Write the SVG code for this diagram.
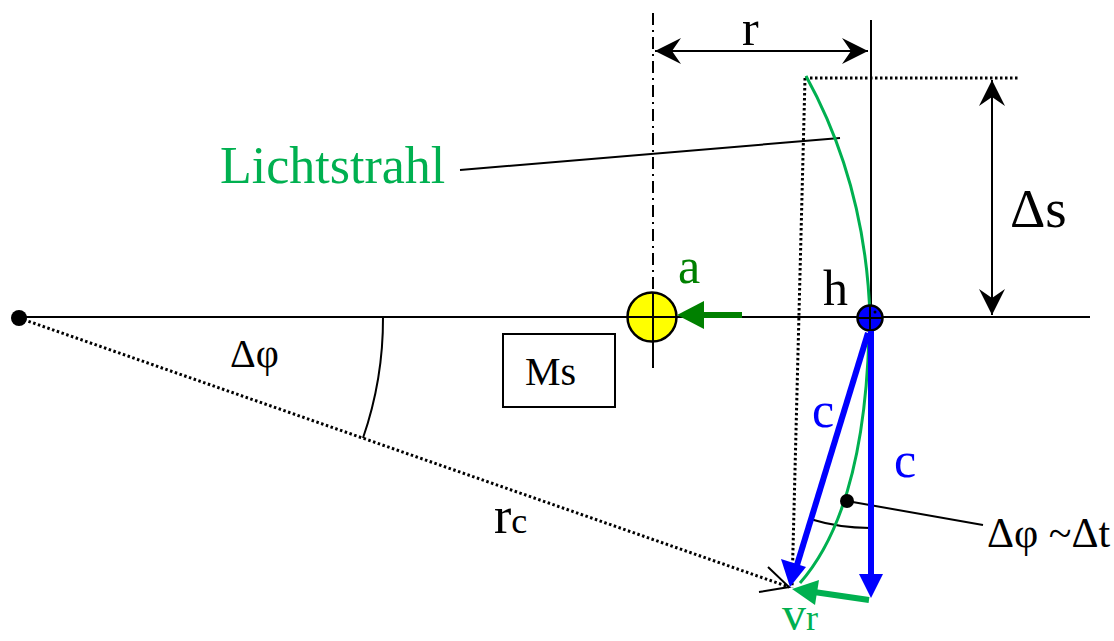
<svg xmlns="http://www.w3.org/2000/svg" width="1114" height="641" viewBox="0 0 1114 641">
<style>
text{font-family:"Liberation Serif","Times New Roman",serif;}
.ln{stroke:#000;stroke-width:2;fill:none;}
.dot{stroke:#000;stroke-width:3;stroke-dasharray:2.5,2.5;fill:none;}
.blue{fill:#0000FF;}
.green{fill:#00B050;}
.dgreen{fill:#008000;}
</style>
<defs>
<marker id="ah" markerWidth="28" markerHeight="28" viewBox="-27 -14 28 28" refX="0" refY="0" orient="auto-start-reverse" markerUnits="userSpaceOnUse">
<path d="M0,0 L-26,-13 L-17,0 L-26,13 Z" fill="#000"/>
</marker>
</defs>
<rect width="1114" height="641" fill="#fff"/>
<g id="connectors">
<line class="ln" x1="19" y1="317" x2="1090" y2="317"/>
<line class="ln" x1="653" y1="13" x2="653" y2="293" stroke-dasharray="12,5,2,5"/>
<line class="ln" x1="653" y1="293" x2="653" y2="368"/>
<line class="ln" x1="871" y1="20" x2="871" y2="318"/>
<line class="ln" x1="655" y1="51" x2="868" y2="51" marker-start="url(#ah)" marker-end="url(#ah)"/>
<line class="ln" x1="992" y1="80" x2="992" y2="315" marker-start="url(#ah)" marker-end="url(#ah)"/>
<line class="dot" x1="805" y1="78" x2="1020" y2="78"/>
<line class="dot" x1="805" y1="78" x2="792" y2="588"/>
<line class="dot" x1="19" y1="318" x2="789" y2="587"/>
<polyline class="ln" points="768,567 789,587 759,592"/>
<path class="ln" d="M383,317 A364,364 0 0 1 363,438"/>
<path class="ln" d="M810,519 A208,208 0 0 0 870,528"/>
<line class="ln" x1="460" y1="170" x2="840" y2="138"/>
<line class="ln" x1="847" y1="501" x2="983" y2="525"/>
<path d="M806,76 Q866,185 870,318" fill="none" stroke="#00B050" stroke-width="3"/>
<path d="M869,335 Q864,510 800,583" fill="none" stroke="#00B050" stroke-width="3"/>
</g>
<g id="leftpoint">
<circle cx="19" cy="318" r="8" fill="#000"/>
</g>
<g id="sun">
<circle cx="652" cy="317" r="24.5" fill="#FFFF00" stroke="#000" stroke-width="2.5"/>
<line class="ln" x1="627" y1="317" x2="677" y2="317"/>
<line class="ln" x1="653" y1="292" x2="653" y2="342"/>
</g>
<g id="arrow-a">
<line x1="742" y1="315" x2="700" y2="315" stroke="#008000" stroke-width="6"/>
<path d="M677,315 L704,301 L704,329 Z" class="dgreen"/>
<text x="678" y="283" font-size="50" class="dgreen">a</text>
</g>
<g id="h">
<circle cx="870" cy="318" r="12.5" fill="#0000FF" stroke="#000" stroke-width="2.5"/>
<line class="ln" x1="857" y1="318" x2="883" y2="318"/>
<line class="ln" x1="870" y1="305" x2="870" y2="331"/>
<circle cx="875" cy="312" r="1.5" fill="#000"/>
<text x="823" y="305" font-size="50">h</text>
</g>
<g id="c-vertical">
<line x1="871" y1="331" x2="871" y2="578" stroke="#0000FF" stroke-width="6"/>
<path d="M871,598 L859,574 L883,574 Z" class="blue"/>
<text x="894" y="477" font-size="50" class="blue">c</text>
</g>
<g id="c-slanted">
<line x1="868" y1="333" x2="797" y2="565" stroke="#0000FF" stroke-width="6"/>
<path d="M790,587 L781,559 L806,567 Z" class="blue"/>
<text x="812" y="427" font-size="50" class="blue">c</text>
</g>
<g id="vr">
<line x1="869" y1="600" x2="814" y2="592" stroke="#00B050" stroke-width="6"/>
<path d="M792,589 L819,580 L815,605 Z" class="green"/>
<text y="630" class="green"><tspan x="782" font-size="48">v</tspan><tspan font-size="36">r</tspan></text>
</g>
<g id="dt-marker">
<circle cx="847" cy="501" r="7" fill="#000"/>
<text x="987" y="547" font-size="42">Δφ ~Δt</text>
</g>
<g id="ms">
<rect x="503" y="334" width="112" height="73" fill="#fff" stroke="#000" stroke-width="2"/>
<text x="525" y="385" font-size="40">Ms</text>
</g>
<g id="labels">
<text x="742" y="45" font-size="50">r</text>
<text x="220" y="183" font-size="52" class="green">Lichtstrahl</text>
<text x="1010" y="227" font-size="55">Δs</text>
<text x="230" y="367" font-size="40">Δφ</text>
<text y="533"><tspan x="494" font-size="52">r</tspan><tspan font-size="36">c</tspan></text>
</g>
</svg>
